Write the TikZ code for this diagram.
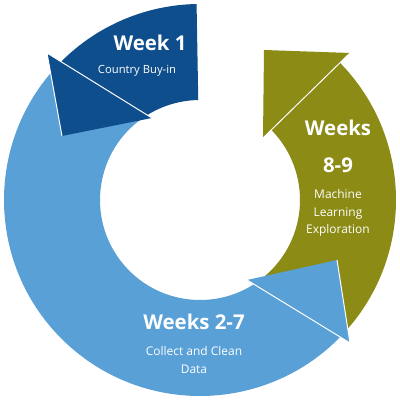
\documentclass[tikz,border=0pt]{standalone}
\usepackage{fontspec}
\setmainfont{Open Sans}
\usepackage{tikz}
\definecolor{wkdark}{HTML}{0E4E8C}
\definecolor{wklight}{HTML}{58A0D6}
\definecolor{wkolive}{HTML}{8B8B16}

\begin{document}
\begin{tikzpicture}[
      x=0.025cm, y=0.025cm,
      seam/.style={white, line width=0.7pt, line join=round},
      title/.style={text=white, font=\bfseries\fontsize{14.5}{16}\selectfont, inner sep=0pt},
      note/.style={text=white, align=center, font=\fontsize{8.5}{12.4}\selectfont, inner sep=0pt}
    ]
    \useasboundingbox (-200,-200) rectangle (200,200);
    % bands
    \fill[wkdark] (91:196) arc[start angle=91, end angle=138, radius=196] -- (128:100) arc[start angle=128, end angle=91, radius=100] -- cycle;
    \fill[wklight] (138:196) arc[start angle=138, end angle=318, radius=196] -- (308:100) arc[start angle=308, end angle=128, radius=100] -- cycle;
    \fill[wkolive] (-42:196) arc[start angle=-42, end angle=44.5, radius=196] -- (44.5:100) arc[start angle=44.5, end angle=-52, radius=100] -- cycle;
    % heads
    \fill[wkdark] (-153,147) -- (-48,82) -- (-138,64) -- cycle;
    \draw[seam] (-48,82) -- (-153,147) -- (-138,64);
    \fill[wklight] (150,-143) -- (47,-80) -- (137,-60) -- cycle;
    \draw[seam] (47,-80) -- (150,-143) -- (137,-60);
    \fill[wkolive] (150,147) -- (63,62) -- (64,150) -- cycle;
    \draw[seam] (150,147) -- (63,62);
    % labels
    \node[title] (w1) at (-50,157) {Week 1};
    \node[note, font=\fontsize{8}{10}\selectfont] (w1t) at (-63,129) {Country Buy-in};
    \node[title] (w89) at (138,72) {Weeks};
    \node[title] (w89n) at (138,35) {8-9};
    \node[note] (w89t) at (138,-13) {Machine\\Learning\\Exploration};
    \node[title] (w27) at (-6,-122) {Weeks 2-7};
    \node[note, font=\fontsize{8.5}{12.7}\selectfont] (w27t) at (-6,-160) {Collect and Clean\\Data};
  \end{tikzpicture}
\end{document}
